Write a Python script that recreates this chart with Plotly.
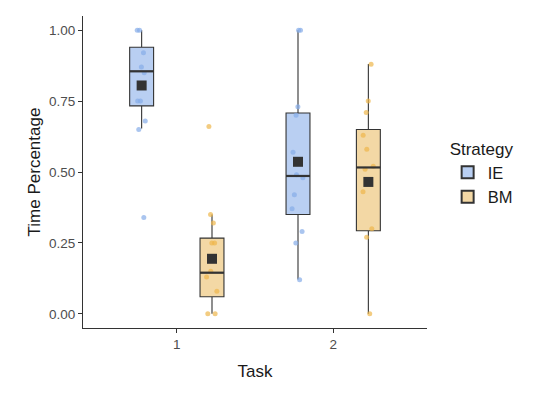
import plotly.graph_objects as go

# task positions and strategies
tasks = [1, 2]
task_labels = ["1", "2"]
strategies = ["IE", "BM"]

ie_task1 = [1.0, 1.0, 0.92, 0.87, 0.85, 0.75, 0.75, 0.68, 0.65, 0.34]
ie_task2 = [1.0, 1.0, 0.73, 0.70, 0.57, 0.49, 0.48, 0.42, 0.37, 0.29, 0.25, 0.12]
bm_task1 = [0.66, 0.35, 0.32, 0.25, 0.25, 0.15, 0.13, 0.08, 0.0, 0.0]
bm_task2 = [0.88, 0.75, 0.71, 0.63, 0.58, 0.52, 0.51, 0.43, 0.30, 0.27, 0.0]

# box statistics [task1, task2]
ie_q1 = [0.733, 0.350]
ie_median = [0.855, 0.486]
ie_q3 = [0.940, 0.708]
ie_lower = [0.653, 0.121]
ie_upper = [1.0, 1.0]
ie_mean = [0.805, 0.536]

bm_q1 = [0.060, 0.293]
bm_median = [0.145, 0.516]
bm_q3 = [0.267, 0.650]
bm_lower = [0.0, 0.0]
bm_upper = [0.350, 0.881]
bm_mean = [0.194, 0.465]

# styling
dodge = 0.225
box_w = 0.153
fills = {"IE": "#b9cff2", "BM": "#f3d8a5"}
dots = {"IE": "#86ace8", "BM": "#eeb64c"}
font = "Liberation Sans, Arial, sans-serif"

data = {
    "IE": dict(pts=[ie_task1, ie_task2], q1=ie_q1, med=ie_median, q3=ie_q3,
               lo=ie_lower, hi=ie_upper, mean=ie_mean, off=-dodge),
    "BM": dict(pts=[bm_task1, bm_task2], q1=bm_q1, med=bm_median, q3=bm_q3,
               lo=bm_lower, hi=bm_upper, mean=bm_mean, off=dodge),
}

fig = go.Figure()

for s in strategies:
    d = data[s]
    xs = [t + d["off"] for t in tasks]
    # box from precomputed stats
    fig.add_trace(go.Box(
        x=xs, q1=d["q1"], median=d["med"], q3=d["q3"],
        lowerfence=d["lo"], upperfence=d["hi"],
        width=box_w, whiskerwidth=0, boxpoints=False,
        fillcolor=fills[s], line=dict(color="#333333", width=1.1),
        name=s, legendgroup=s, showlegend=True,
    ))
    # thicker median line like ggplot
    mx, my = [], []
    for x, m in zip(xs, d["med"]):
        mx += [x - box_w / 2, x + box_w / 2, None]
        my += [m, m, None]
    fig.add_trace(go.Scatter(x=mx, y=my, mode="lines",
                             line=dict(color="#333333", width=2.2),
                             showlegend=False, hoverinfo="skip"))

for s in strategies:
    d = data[s]
    px_x, px_y = [], []
    for t, pts in zip(tasks, d["pts"]):
        px_x += [t + d["off"]] * len(pts)
        px_y += pts
    # jittered points (invisible box, points only)
    fig.add_trace(go.Box(
        x=px_x, y=px_y, width=box_w, boxpoints="all", jitter=0.55, pointpos=0,
        fillcolor="rgba(0,0,0,0)", line=dict(width=0, color="rgba(0,0,0,0)"),
        marker=dict(color=dots[s], size=5, opacity=0.7),
        showlegend=False, hoverinfo="y",
    ))

for s in strategies:
    d = data[s]
    fig.add_trace(go.Scatter(
        x=[t + d["off"] for t in tasks], y=d["mean"], mode="markers",
        marker=dict(symbol="square", size=10, color="#333333"),
        showlegend=False,
    ))

axis_common = dict(
    showline=True, linecolor="#333333", linewidth=1, mirror=False,
    ticks="outside", ticklen=4, tickcolor="#333333", showgrid=False, zeroline=False,
    tickfont=dict(size=13.5, color="#4d4d4d", family=font),
)

# the page body has an 8px margin, so the figure is 8px smaller than the window
fig.update_layout(
    width=540, height=389,
    margin=dict(l=75, r=121, t=8, b=69),
    plot_bgcolor="white", paper_bgcolor="white",
    font=dict(family=font, color="#1a1a1a"),
    boxmode="overlay",
    xaxis=dict(range=[0.4, 2.6], tickvals=tasks, ticktext=task_labels,
               title=dict(text="Task", font=dict(size=17, color="#1a1a1a"), standoff=13),
               **axis_common),
    yaxis=dict(range=[-0.05, 1.05], tickvals=[0, 0.25, 0.5, 0.75, 1.0], tickformat=".2f",
               title=dict(text="Time Percentage", font=dict(size=17, color="#1a1a1a"), standoff=4),
               **axis_common),
    legend=dict(title=dict(text="Strategy", font=dict(size=17)),
                font=dict(size=16.5), x=1.06, y=0.625, xanchor="left", yanchor="top",
                tracegroupgap=0, itemsizing="constant"),
)

fig.write_html("out.html")
